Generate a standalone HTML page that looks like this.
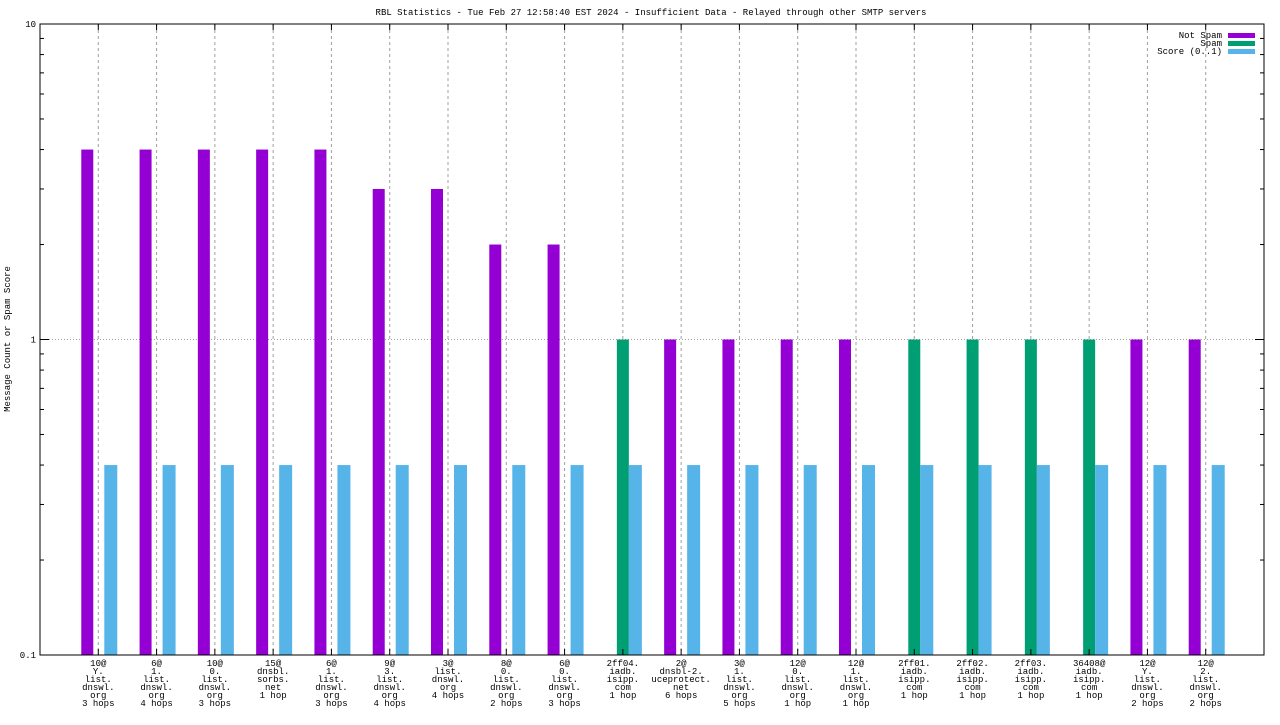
<!DOCTYPE html>
<html><head><meta charset="utf-8"><style>
html,body{margin:0;padding:0;background:#fff;}
svg text{font-family:"Liberation Mono",monospace;font-size:9px;fill:#000;}
</style></head><body>
<svg id="c" width="1280" height="720" xmlns="http://www.w3.org/2000/svg"></svg>
<script>
const categories = [
 ["10@","Y.","list.","dnswl.","org","3 hops"],
 ["6@","1.","list.","dnswl.","org","4 hops"],
 ["10@","0.","list.","dnswl.","org","3 hops"],
 ["15@","dnsbl.","sorbs.","net","1 hop"],
 ["6@","1.","list.","dnswl.","org","3 hops"],
 ["9@","3.","list.","dnswl.","org","4 hops"],
 ["3@","list.","dnswl.","org","4 hops"],
 ["8@","0.","list.","dnswl.","org","2 hops"],
 ["6@","0.","list.","dnswl.","org","3 hops"],
 ["2ff04.","iadb.","isipp.","com","1 hop"],
 ["2@","dnsbl-2.","uceprotect.","net","6 hops"],
 ["3@","1.","list.","dnswl.","org","5 hops"],
 ["12@","0.","list.","dnswl.","org","1 hop"],
 ["12@","1.","list.","dnswl.","org","1 hop"],
 ["2ff01.","iadb.","isipp.","com","1 hop"],
 ["2ff02.","iadb.","isipp.","com","1 hop"],
 ["2ff03.","iadb.","isipp.","com","1 hop"],
 ["36408@","iadb.","isipp.","com","1 hop"],
 ["12@","Y.","list.","dnswl.","org","2 hops"],
 ["12@","2.","list.","dnswl.","org","2 hops"]
];
const notSpam = [4,4,4,4,4,3,3,2,2,0,1,1,1,1,0,0,0,0,1,1];
const spam    = [0,0,0,0,0,0,0,0,0,1,0,0,0,0,1,1,1,1,0,0];
const score   = [0.4,0.4,0.4,0.4,0.4,0.4,0.4,0.4,0.4,0.4,0.4,0.4,0.4,0.4,0.4,0.4,0.4,0.4,0.4,0.4];
const yTicks = [0.1,1,10];
const yTickLabels = ["0.1","1","10"];

const svg=document.getElementById('c');
const NS="http://www.w3.org/2000/svg";
const L=40,R=1264,T=24,B=655;
const xs=i=>L+(i+1)*(R-L)/21;
const ys=v=>B-(Math.log10(v)+1)*(B-T)/2;
function mk(tag,a,parent){const e=document.createElementNS(NS,tag);for(const k in a)e.setAttribute(k,a[k]);(parent||svg).appendChild(e);return e;}

// grid
categories.forEach((c,i)=>{
 const g=mk('line',{x1:xs(i),x2:xs(i),y1:T,y2:B,stroke:'#a0a0a0','stroke-dasharray':'3,3'});
 
 
});
const hg=mk('line',{x1:L,x2:R,y1:ys(1),y2:ys(1),stroke:'#a0a0a0','stroke-dasharray':'1,2'});



// bars
categories.forEach((c,i)=>{
 const cx=xs(i);
 if(notSpam[i]>0){const r=mk('rect',{x:cx-17,y:ys(notSpam[i]),width:12,height:B-ys(notSpam[i]),fill:'#9400d3'});
  
  }
 if(spam[i]>0){const r=mk('rect',{x:cx-6,y:ys(spam[i]),width:12,height:B-ys(spam[i]),fill:'#009e73'});
  
  }
 if(score[i]>0){const r=mk('rect',{x:cx+6,y:ys(score[i]),width:13,height:B-ys(score[i]),fill:'#56b4e9'});
  
  }
});

// frame
const fr=mk('rect',{x:L,y:T,width:R-L,height:B-T,fill:'none',stroke:'#000','stroke-width':1});



// y ticks
yTicks.forEach((v,k)=>{
 const y=ys(v);
 mk('line',{x1:L,x2:L+9,y1:y,y2:y,stroke:'#000'});
 mk('line',{x1:R,x2:R-9,y1:y,y2:y,stroke:'#000'});
 const t=mk('text',{x:L-4,y:y+3,'text-anchor':'end'});t.textContent=yTickLabels[k];
 
 
 if(v<10){for(let m=2;m<=9;m++){const yy=ys(v*m);
  mk('line',{x1:L,x2:L+4,y1:yy,y2:yy,stroke:'#000'});
  mk('line',{x1:R,x2:R-4,y1:yy,y2:yy,stroke:'#000'});}}
});

// x ticks and labels
categories.forEach((c,i)=>{
 const cx=xs(i);
 mk('line',{x1:cx,x2:cx,y1:B,y2:B-6,stroke:'#000'});
 mk('line',{x1:cx,x2:cx,y1:T,y2:T+6,stroke:'#000'});
 const t=mk('text',{x:cx,y:666,'text-anchor':'middle'});
 
 
 c.forEach((s,j)=>{const ts=mk('tspan',{x:cx,dy:j?8:0},t);ts.textContent=s;});
});

// title & axis label
const ti=mk('text',{x:651,y:15,'text-anchor':'middle'});ti.textContent='RBL Statistics - Tue Feb 27 12:58:40 EST 2024 - Insufficient Data - Relayed through other SMTP servers';


const yl=mk('text',{x:0,y:0,'text-anchor':'middle',transform:'translate(10,339) rotate(-90)'});yl.textContent='Message Count or Spam Score';



// legend
[["Not Spam","#9400d3",35],["Spam","#009e73",43],["Score (0..1)","#56b4e9",51]].forEach(e=>{
 const t=mk('text',{x:1222,y:e[2]+3,'text-anchor':'end'});t.textContent=e[0];
 
 
 const r=mk('rect',{x:1228,y:e[2]-2,width:27,height:5,fill:e[1]});
 
 
});
</script>
</body></html>
